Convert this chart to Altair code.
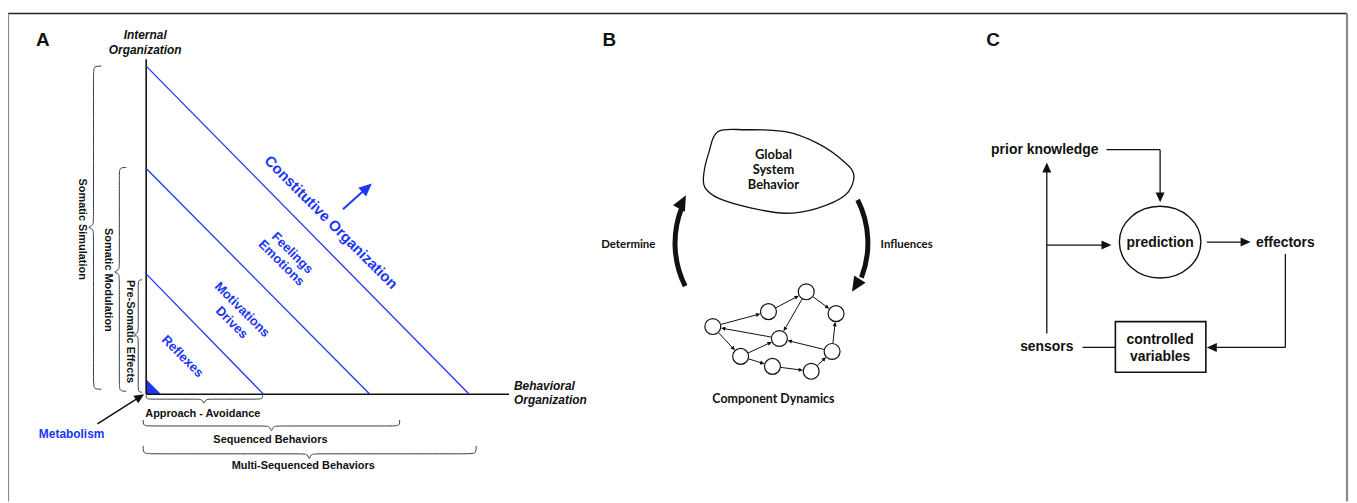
import math
import altair as alt
import pandas as pd

# ---------------- canvas (pixel-like coordinate scales) ----------------
W, H = 1349, 495
X0, Y0 = 8, 8
xs = alt.Scale(domain=[X0, X0 + W], nice=False, zero=False)
ys = alt.Scale(domain=[Y0, Y0 + H], nice=False, zero=False, reverse=True)

BLUE = "#2036f4"
INK = "#111111"
ARROW = "M0,0L0.45,1L-0.45,1Z"          # arrow head, tip at origin, pointing up
ELLIPSE = "M-1,0A1,0.88,0,1,0,1,0A1,0.88,0,1,0,-1,0Z"

# ---------------- data: panel letters ----------------
panel_letters = ["A", "B", "C"]
letter_x = [43, 613, 999]
letter_y = [39, 39, 39]

# ---------------- data: panel A ----------------
origin = (147, 395)
axis_top_y = 58
axis_right_x = 512
band_top_y = [65, 168, 274]
band_base_x = [472, 372, 265]
band_labels = ["Constitutive Organization", "Feelings", "Emotions", "Motivations", "Drives", "Reflexes"]
band_label_x = [333, 294, 283, 243.5, 233, 183.5]
band_label_y = [222, 253, 263, 310, 323, 357]
band_label_size = [15, 13, 13, 13, 13, 13]

axis_labels = ["Internal", "Organization"]
axis_label_x = [146, 146]
axis_label_y = [34, 49]
axis2_labels = ["Behavioral", "Organization"]
axis2_label_x = [517, 517]
axis2_label_y = [387, 401]

vbrace_labels = ["Somatic Simulation", "Somatic Modulation", "Pre-Somatic Effects"]
vbrace_top = [65, 167, 280]
vbrace_bottom = [390, 392, 393]
vbrace_tip = [227, 272, 335]
vbrace_end_x = [102, 127, 143]
vbrace_body_x = [94, 120, 139]
vbrace_tip_x = [87, 113, 134]
vbrace_label_x = [82, 108.5, 130.5]
vbrace_label_y = [229, 280, 332]

hbrace_labels = ["Approach - Avoidance", "Sequenced Behaviors", "Multi-Sequenced Behaviors"]
hbrace_left = [147, 144, 144]
hbrace_right = [264, 402, 479]
hbrace_tip = [205, 273, 311]
hbrace_end_y = [396, 421, 447]
hbrace_body_y = [400, 427, 455]
hbrace_tip_y = [406, 434, 462]
hbrace_label_x = [204, 272, 305]
hbrace_label_y = [415, 441, 467]

metabolism_label = "Metabolism"
metabolism_xy = (72, 435)
metabolism_arrow = (98, 425, 145, 395)
growth_arrow = (345, 209, 374, 183)

# ---------------- data: panel B ----------------
blob_x = [722, 750, 790, 823, 850, 859, 850, 822, 790, 757, 723, 709, 708, 713]
blob_y = [131, 129, 131, 143, 162, 176, 195, 208, 213, 208, 198, 187, 173, 152]
blob_labels = ["Global", "System", "Behavior"]
blob_label_y = [154, 170, 185]
blob_label_x = 778

cycle_center = (776, 243)
cycle_labels = ["Determine", "Influences"]
cycle_label_x = [632, 912]
cycle_label_y = [245, 245]
arc_start_deg = [243.5, 63.4]
arc_end_deg = [292.0, 111.0]
arc_tip_x = [690, 857]
arc_tip_y = [195, 292]
arc_tip_angle = [28, 212]

node_x = [717, 773, 811, 841, 784, 745, 777, 816, 837]
node_y = [327, 312, 292, 314, 339, 357, 367, 372, 352]
edge_from = [0, 1, 2, 2, 4, 0, 5, 5, 6, 7, 8, 8]
edge_to = [1, 2, 3, 4, 0, 5, 4, 6, 7, 8, 4, 3]
network_label = "Component Dynamics"
network_label_xy = (778, 400)

# ---------------- data: panel C ----------------
c_labels = ["prior knowledge", "prediction", "effectors", "sensors", "controlled", "variables"]
c_label_x = [1051, 1167, 1293, 1053, 1167, 1167]
c_label_y = [149, 243, 243, 348, 341, 358]
pred_center = (1167, 242)
box = (1122, 322, 1213, 373)
# (x1, y1, x2, y2, has_head)
c_paths = [
    (1113, 149, 1167, 149, False),
    (1167, 149, 1167, 202, True),
    (1214, 242, 1258, 242, True),
    (1293, 254, 1293, 348, False),
    (1293, 348, 1214, 348, True),
    (1089, 348, 1122, 348, False),
    (1053, 334, 1053, 162, True),
    (1053, 245, 1118, 245, True),
]

# ---------------- build tables ----------------
segs, heads = [], []


def seg(x1, y1, x2, y2, color=INK, w=1.3):
    segs.append(dict(x=x1, y=y1, x2=x2, y2=y2, color=color, w=w))


def arrow(x1, y1, x2, y2, color=INK, w=1.3, head=10):
    dx, dy = x2 - x1, y2 - y1
    L = math.hypot(dx, dy)
    ux, uy = dx / L, dy / L
    seg(x1, y1, x2 - ux * head * 0.8, y2 - uy * head * 0.8, color, w)
    heads.append(dict(x=x2, y=y2, angle=math.degrees(math.atan2(ux, -uy)),
                      size=(2 * head) ** 2, color=color))


# frame
seg(8, 12, 1355, 12, "#222222", 1.5)
seg(8, 12, 8, 503, "#8a8a8a", 2.2)
seg(1355, 12, 1355, 503, "#8a8a8a", 2.2)

# panel A axes and bands
seg(origin[0], axis_top_y, origin[0], origin[1], INK, 1.6)
seg(origin[0], origin[1], axis_right_x, origin[1], INK, 1.6)
for ty, bx in zip(band_top_y, band_base_x):
    seg(origin[0], ty, bx, origin[1], BLUE, 1.3)
arrow(*growth_arrow, color=BLUE, w=2.0, head=13)
arrow(*metabolism_arrow, color=INK, w=1.5, head=10)

# panel C
for x1, y1, x2, y2, hd in c_paths:
    if hd:
        arrow(x1, y1, x2, y2, INK, 1.3, 10)
    else:
        seg(x1, y1, x2, y2, INK, 1.3)

# network edges
R = 8.3
for a, b in zip(edge_from, edge_to):
    x1, y1, x2, y2 = node_x[a], node_y[a], node_x[b], node_y[b]
    L = math.hypot(x2 - x1, y2 - y1)
    ux, uy = (x2 - x1) / L, (y2 - y1) / L
    arrow(x1 + ux * R, y1 + uy * R, x2 - ux * R, y2 - uy * R, INK, 1.0, 4.5)

# big cycle arrow heads
for tx, ty, ang in zip(arc_tip_x, arc_tip_y, arc_tip_angle):
    heads.append(dict(x=tx, y=ty, angle=ang, size=(2 * 15) ** 2, color=INK))

seg_df = pd.DataFrame(segs)
head_df = pd.DataFrame(heads)

# braces (B-spline control points)
brace_rows = []


def brace(bid, a0, a1, t, c_end, c_body, c_tip, vertical, k=7):
    along = [a0, a0, a0 + k, t - k, t - 1.5, t, t + 1.5, t + k, a1 - k, a1, a1]
    across = [c_end, c_body, c_body, c_body, c_body, c_tip, c_body, c_body, c_body, c_body, c_end]
    for i, (p, q) in enumerate(zip(along, across)):
        if vertical:
            brace_rows.append(dict(id=bid, ord=i, x=q, y=p))
        else:
            brace_rows.append(dict(id=bid, ord=i, x=p, y=q))


for i in range(3):
    brace(f"v{i}", vbrace_top[i], vbrace_bottom[i], vbrace_tip[i],
          vbrace_end_x[i], vbrace_body_x[i], vbrace_tip_x[i], True)
    brace(f"h{i}", hbrace_left[i], hbrace_right[i], hbrace_tip[i],
          hbrace_end_y[i], hbrace_body_y[i], hbrace_tip_y[i], False)
brace_df = pd.DataFrame(brace_rows)

blob_df = pd.DataFrame(dict(x=blob_x, y=blob_y, ord=list(range(len(blob_x)))))
node_df = pd.DataFrame(dict(x=node_x, y=node_y))
tri_df = pd.DataFrame(dict(x=[origin[0], origin[0] + 15], y=[origin[1] - 15, origin[1]],
                           y2=[origin[1], origin[1]]))
arc_df = pd.DataFrame(dict(x=[cycle_center[0]] * 2, y=[cycle_center[1]] * 2,
                           t0=[math.radians(v) for v in arc_start_deg],
                           t1=[math.radians(v) for v in arc_end_deg]))
box_df = pd.DataFrame(dict(x=[box[0]], y=[box[1]], x2=[box[2]], y2=[box[3]]))
ell_df = pd.DataFrame(dict(x=[pred_center[0]], y=[pred_center[1]]))

# text tables
arial_rows = []
for t, x, y in zip(panel_letters, letter_x, letter_y):
    arial_rows.append(dict(text=t, x=x, y=y, size=19, angle=0, color=INK))
for t, x, y, s in zip(band_labels, band_label_x, band_label_y, band_label_size):
    arial_rows.append(dict(text=t, x=x, y=y, size=s, angle=45, color=BLUE))
for t, x, y in zip(vbrace_labels, vbrace_label_x, vbrace_label_y):
    arial_rows.append(dict(text=t, x=x, y=y, size=11, angle=90, color=INK))
for t, x, y in zip(hbrace_labels, hbrace_label_x, hbrace_label_y):
    arial_rows.append(dict(text=t, x=x, y=y, size=11, angle=0, color=INK))
arial_rows.append(dict(text=metabolism_label, x=metabolism_xy[0], y=metabolism_xy[1],
                       size=12, angle=0, color=BLUE))
for t, x, y in zip(c_labels, c_label_x, c_label_y):
    arial_rows.append(dict(text=t, x=x, y=y, size=14, angle=0, color=INK))
arial_df = pd.DataFrame(arial_rows)

ital_c_df = pd.DataFrame(dict(text=axis_labels, x=axis_label_x, y=axis_label_y))
ital_l_df = pd.DataFrame(dict(text=axis2_labels, x=axis2_label_x, y=axis2_label_y))

calibri_rows = []
for t, y in zip(blob_labels, blob_label_y):
    calibri_rows.append(dict(text=t, x=blob_label_x, y=y, size=13))
for t, x, y in zip(cycle_labels, cycle_label_x, cycle_label_y):
    calibri_rows.append(dict(text=t, x=x, y=y, size=11.5))
calibri_rows.append(dict(text=network_label, x=network_label_xy[0], y=network_label_xy[1], size=12.5))
calibri_df = pd.DataFrame(calibri_rows)

# ---------------- layers ----------------
def XE(f="x"):
    return alt.X(f"{f}:Q", scale=xs, axis=None)


def YE(f="y"):
    return alt.Y(f"{f}:Q", scale=ys, axis=None)


rules = alt.Chart(seg_df).mark_rule(strokeCap="butt").encode(
    x=XE(), y=YE(), x2="x2:Q", y2="y2:Q",
    color=alt.Color("color:N", scale=None),
    strokeWidth=alt.StrokeWidth("w:Q", scale=None))

head_layer = alt.Chart(head_df).mark_point(shape=ARROW, filled=True, opacity=1, strokeWidth=0).encode(
    x=XE(), y=YE(),
    angle=alt.Angle("angle:Q", scale=None),
    size=alt.Size("size:Q", scale=None),
    color=alt.Color("color:N", scale=None))

braces = alt.Chart(brace_df).mark_line(interpolate="basis", color="#3a3a3a", strokeWidth=1.0).encode(
    x=XE(), y=YE(), detail="id:N", order="ord:Q")

blob = alt.Chart(blob_df).mark_line(interpolate="cardinal-closed", color=INK, strokeWidth=1.3).encode(
    x=XE(), y=YE(), order="ord:Q")

tri = alt.Chart(tri_df).mark_area(color=BLUE, opacity=1).encode(x=XE(), y=YE(), y2="y2:Q")

arcs = alt.Chart(arc_df).mark_arc(radius=99.5, radius2=94.5, color=INK).encode(
    x=XE(), y=YE(),
    theta=alt.Theta("t0:Q", scale=None, stack=None),
    theta2="t1:Q")

nodes = alt.Chart(node_df).mark_point(shape="circle", filled=False, size=256, color=INK,
                                      fill="white", fillOpacity=1, opacity=1, strokeWidth=1.2).encode(
    x=XE(), y=YE())

rect = alt.Chart(box_df).mark_rect(fill="white", stroke=INK, strokeWidth=1.6).encode(
    x=XE(), y=YE(), x2="x2:Q", y2="y2:Q")

ellipse = alt.Chart(ell_df).mark_point(shape=ELLIPSE, filled=False, size=82 * 82, color=INK,
                                       opacity=1, strokeWidth=1.4).encode(x=XE(), y=YE())

arial_text = alt.Chart(arial_df).mark_text(font="Liberation Sans", fontWeight="bold").encode(
    x=XE(), y=YE(), text="text:N",
    size=alt.Size("size:Q", scale=None),
    angle=alt.Angle("angle:Q", scale=None),
    color=alt.Color("color:N", scale=None))

ital_c = alt.Chart(ital_c_df).mark_text(font="Liberation Sans", fontWeight="bold", fontStyle="italic",
                                        fontSize=12, color=INK).encode(x=XE(), y=YE(), text="text:N")
ital_l = alt.Chart(ital_l_df).mark_text(font="Liberation Sans", fontWeight="bold", fontStyle="italic",
                                        fontSize=12, color=INK, align="left").encode(x=XE(), y=YE(), text="text:N")

calibri_text = alt.Chart(calibri_df).mark_text(font="Lato", fontWeight="bold", color=INK).encode(
    x=XE(), y=YE(), text="text:N", size=alt.Size("size:Q", scale=None))

chart = alt.layer(
    tri, rules, braces, blob, arcs, rect, ellipse, nodes, head_layer,
    arial_text, ital_c, ital_l, calibri_text
).properties(
    width=W, height=H, padding=0, autosize="none", background="white"
).configure_view(stroke=None)

chart.save("out.html", embed_options={"renderer": "svg", "actions": False})
